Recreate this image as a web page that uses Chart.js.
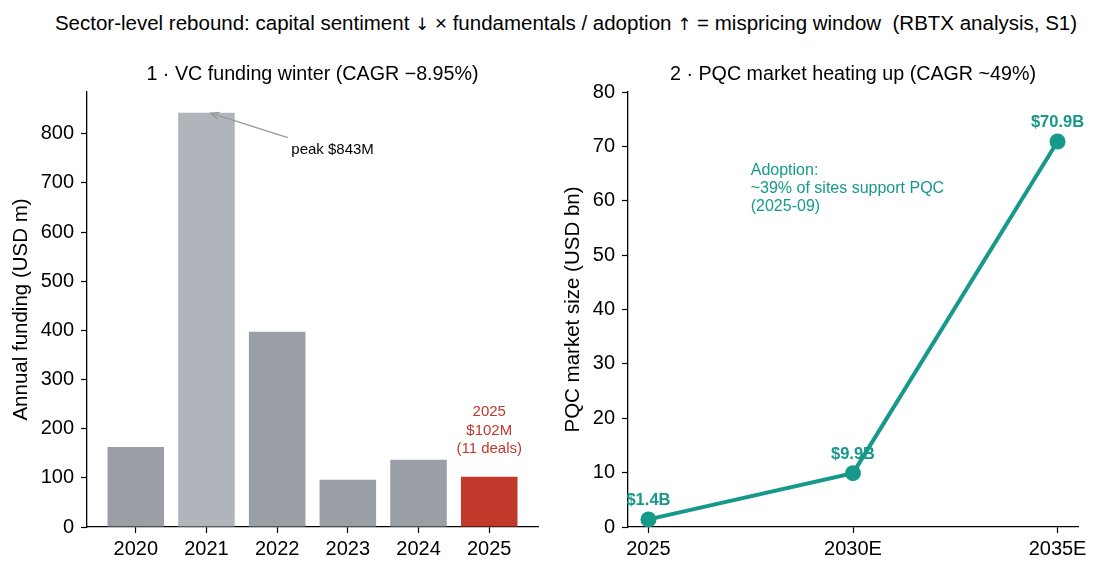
<!DOCTYPE html>
<html lang="en">
  <head>
    <meta charset="UTF-8" />
    <title>Sector-level rebound</title>
    <style>
      body {
        margin: 0;
        width: 1100px;
        height: 573px;
        background: #fff;
        font-family: "Liberation Sans", Arial, sans-serif;
        position: relative;
        overflow: hidden;
      }
      .suptitle {
        position: absolute;
        top: 0;
        left: 16px;
        width: 1100px;
        height: 45px;
        line-height: 45px;
        text-align: center;
        font-size: 20.5px;
        color: #000;
        white-space: nowrap;
      }
      .arrow {
        font-family: "DejaVu Sans", sans-serif;
        font-size: 17px;
        color: #000;
      }
      .panel {
        position: absolute;
        top: 45px;
        width: 550px;
        height: 528px;
      }
    </style>
  </head>
  <body>
    <div class="suptitle">
      Sector-level rebound: capital sentiment <span class="arrow">↓</span> × fundamentals / adoption <span class="arrow">↑</span> = mispricing window&nbsp; (RBTX analysis, S1)
    </div>
    <div class="panel" style="left: 0"><canvas id="vcChart"></canvas></div>
    <div class="panel" style="left: 550px"><canvas id="pqcChart"></canvas></div>

    <script src="https://cdn.jsdelivr.net/npm/chart.js"></script>
    <script>
      // panel 1: VC funding (USD m)
      const years = ["2020", "2021", "2022", "2023", "2024", "2025"];
      const funding = [163, 843, 397, 96, 137, 102];

      // panel 2: PQC market size (USD bn)
      const marketYears = ["2025", "2030E", "2035E"];
      const marketSize = [1.4, 9.9, 70.9];
      const marketLabels = ["$1.4B", "$9.9B", "$70.9B"];

      const FONT = "Liberation Sans";
      const GREY = "#9a9fa6";
      const GREY_LIGHT = "#b0b4bb";
      const RED = "#c0392b";
      const TEAL = "#16998a";

      Chart.defaults.font.family = FONT;
      Chart.defaults.color = "#000";
      Chart.defaults.animation = false;

      const barColors = years.map((y, i) =>
        y === "2025" ? RED : i === 1 ? GREY_LIGHT : GREY
      );

      function fixWidth(w) {
        return (scale) => {
          scale.width = w;
        };
      }
      function fixHeight(h) {
        return (scale) => {
          scale.height = h;
        };
      }

      // axis title centred over the plot area, like matplotlib
      function drawPanelTitle(chart, text) {
        const { ctx, chartArea } = chart;
        ctx.save();
        ctx.fillStyle = "#000";
        ctx.font = `19.7px ${FONT}`;
        ctx.textAlign = "center";
        ctx.textBaseline = "middle";
        ctx.fillText(text, (chartArea.left + chartArea.right) / 2, chartArea.top - 17);
        ctx.restore();
      }

      const axisStyle = {
        border: { color: "#000", width: 1.3 },
        grid: {
          drawOnChartArea: false,
          offset: false,
          color: "#000",
          tickLength: 6,
          tickWidth: 1.2,
        },
      };

      const vcNotes = {
        id: "vcNotes",
        afterDatasetsDraw(chart) {
          const { ctx, scales } = chart;
          const x = scales.x, y = scales.y;
          drawPanelTitle(chart, "1 · VC funding winter (CAGR −8.95%)");
          ctx.save();

          // arrow to the 2021 peak
          const x0 = x.getPixelForValue(2.15), y0 = y.getPixelForValue(792);
          const x1 = x.getPixelForValue(1.06), y1 = y.getPixelForValue(842);
          ctx.strokeStyle = "#999";
          ctx.lineWidth = 1.3;
          ctx.beginPath();
          ctx.moveTo(x0, y0);
          ctx.lineTo(x1, y1);
          const a = Math.atan2(y0 - y1, x0 - x1);
          ctx.moveTo(x1 + 9 * Math.cos(a - 0.4), y1 + 9 * Math.sin(a - 0.4));
          ctx.lineTo(x1, y1);
          ctx.lineTo(x1 + 9 * Math.cos(a + 0.4), y1 + 9 * Math.sin(a + 0.4));
          ctx.stroke();

          ctx.fillStyle = "#000";
          ctx.font = `15px ${FONT}`;
          ctx.textAlign = "left";
          ctx.textBaseline = "middle";
          ctx.fillText("peak $843M", x.getPixelForValue(2.2), y.getPixelForValue(768));

          // 2025 note
          ctx.fillStyle = RED;
          ctx.font = `15px ${FONT}`;
          ctx.textAlign = "center";
          const cx = x.getPixelForValue(5);
          const lines = ["2025", "$102M", "(11 deals)"];
          const base = y.getPixelForValue(158);
          lines.forEach((t, i) => {
            ctx.fillText(t, cx, base - (lines.length - 1 - i) * 18.5);
          });
          ctx.restore();
        },
      };

      new Chart(document.getElementById("vcChart"), {
        type: "bar",
        data: {
          datasets: [
            {
              data: funding.map((v, i) => ({ x: i, y: v })),
              backgroundColor: barColors,
              borderWidth: 0,
              barPercentage: 1,
              categoryPercentage: 0.8,
            },
          ],
        },
        options: {
          responsive: true,
          maintainAspectRatio: false,
          layout: { padding: { left: 0, right: 12, top: 47, bottom: 0 } },
          plugins: {
            legend: { display: false },
            tooltip: { enabled: false },
          },
          scales: {
            x: {
              ...axisStyle,
              type: "linear",
              offset: false,
              min: -0.69,
              max: 5.69,
              afterFit: fixHeight(46),
              ticks: {
                stepSize: 1,
                includeBounds: false,
                autoSkip: false,
                maxRotation: 0,
                padding: 4,
                font: { size: 20 },
                callback: (v) => years[v] ?? "",
              },
            },
            y: {
              ...axisStyle,
              min: 0,
              max: 885,
              afterFit: fixWidth(87),
              ticks: {
                stepSize: 100,
                includeBounds: false,
                padding: 7,
                font: { size: 20 },
              },
              title: {
                display: true,
                text: "Annual funding (USD m)",
                font: { size: 20.5 },
                padding: { top: 9, bottom: 0 },
              },
            },
          },
        },
        plugins: [vcNotes],
      });

      const pqcNotes = {
        id: "pqcNotes",
        afterDatasetsDraw(chart) {
          const { ctx, scales } = chart;
          const x = scales.x, y = scales.y;
          drawPanelTitle(chart, "2 · PQC market heating up (CAGR ~49%)");
          ctx.save();
          ctx.fillStyle = TEAL;
          ctx.font = `bold 16.5px ${FONT}`;
          ctx.textAlign = "center";
          ctx.textBaseline = "middle";
          marketSize.forEach((v, i) => {
            ctx.fillText(marketLabels[i], x.getPixelForValue(i), y.getPixelForValue(v) - 19);
          });

          ctx.font = `16px ${FONT}`;
          ctx.textAlign = "left";
          const note = ["Adoption:", "~39% of sites support PQC", "(2025-09)"];
          const lx = x.getPixelForValue(0.5);
          const ly = y.getPixelForValue(65.6);
          note.forEach((t, i) => ctx.fillText(t, lx, ly + i * 18));
          ctx.restore();
        },
      };

      new Chart(document.getElementById("pqcChart"), {
        type: "line",
        data: {
          datasets: [
            {
              data: marketSize.map((v, i) => ({ x: i, y: v })),
              borderColor: TEAL,
              backgroundColor: TEAL,
              borderWidth: 4,
              pointRadius: 8,
              pointBorderWidth: 0,
              pointBackgroundColor: TEAL,
              tension: 0,
            },
          ],
        },
        options: {
          responsive: true,
          maintainAspectRatio: false,
          layout: { padding: { left: 0, right: 22, top: 47, bottom: 0 } },
          plugins: {
            legend: { display: false },
            tooltip: { enabled: false },
          },
          scales: {
            x: {
              ...axisStyle,
              type: "linear",
              min: -0.1,
              max: 2.1,
              afterFit: fixHeight(46),
              ticks: {
                stepSize: 1,
                includeBounds: false,
                autoSkip: false,
                maxRotation: 0,
                padding: 4,
                font: { size: 20 },
                callback: (v) => marketYears[v] ?? "",
              },
            },
            y: {
              ...axisStyle,
              min: 0,
              max: 80,
              afterFit: fixWidth(78),
              ticks: {
                stepSize: 10,
                padding: 7,
                font: { size: 20 },
              },
              title: {
                display: true,
                text: "PQC market size (USD bn)",
                font: { size: 20.5 },
                padding: { top: 11, bottom: 0 },
              },
            },
          },
        },
        plugins: [pqcNotes],
      });
    </script>
  </body>
</html>
